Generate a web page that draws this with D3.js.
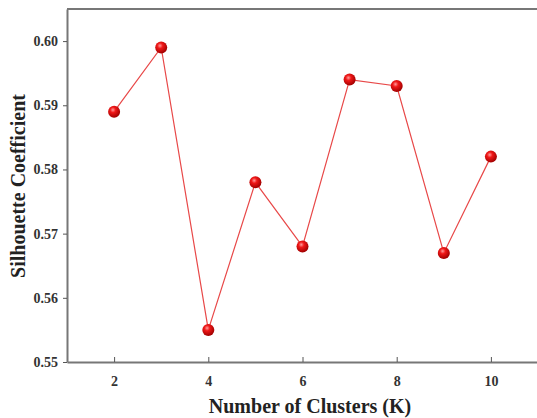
<!DOCTYPE html>
<html><head><meta charset="utf-8">
<script src="https://cdn.jsdelivr.net/npm/d3@7"></script>
<style>body{margin:0;background:#fff}svg{display:block}</style>
</head><body>
<svg id="c" width="537" height="418"></svg>
<script>
const clusters = [2,3,4,5,6,7,8,9,10];
const silhouette = [0.589,0.599,0.555,0.578,0.568,0.594,0.593,0.567,0.582];
const xTicks = [2,4,6,8,10];
const yTicks = [0.55,0.56,0.57,0.58,0.59,0.60];

const svg = d3.select('#c');
const L=67, R=537, T=9, B=362;
const x = d3.scaleLinear().domain([1,11]).range([L,R+1]);
const y = d3.scaleLinear().domain([0.55,0.605]).range([B,T]);

const defs = svg.append('defs');
const g = defs.append('radialGradient').attr('id','ball').attr('cx','40%').attr('cy','35%').attr('r','65%');
g.append('stop').attr('offset','0%').attr('stop-color','#ff9a9a');
g.append('stop').attr('offset','35%').attr('stop-color','#f01818');
g.append('stop').attr('offset','100%').attr('stop-color','#a00000');

svg.append('line').attr('x1',L).attr('x2',R).attr('y1',T).attr('y2',T).attr('stroke','#777').attr('stroke-width',2);

const serif = '"Liberation Serif","Times New Roman",serif';

const xa = svg.append('g').attr('transform',`translate(0,${B})`)
  .call(d3.axisBottom(x).tickValues(xTicks).tickFormat(d3.format('d')).tickSizeInner(-5).tickSizeOuter(0).tickPadding(14));
const ya = svg.append('g').attr('transform',`translate(${L},0)`)
  .call(d3.axisLeft(y).tickValues(yTicks).tickFormat(d3.format('.2f')).tickSizeInner(4).tickSizeOuter(0).tickPadding(5));
[xa,ya].forEach(a=>{
  a.select('.domain').attr('stroke','#777').attr('stroke-width',2);
  a.selectAll('.tick line').attr('stroke','#555').attr('stroke-width',1);
  a.selectAll('text').attr('font-family',serif).attr('font-weight','bold').attr('font-size',14).attr('fill','#333');
});

const line = d3.line().x((d,i)=>x(clusters[i])).y(d=>y(d));
svg.append('path').datum(silhouette).attr('d',line).attr('fill','none').attr('stroke','#e84848').attr('stroke-width',1.2);

svg.selectAll('circle.p').data(silhouette).join('circle').attr('class','p')
  .attr('cx',(d,i)=>x(clusters[i])).attr('cy',d=>y(d)).attr('r',6)
  .attr('fill','url(#ball)');

svg.append('text').attr('x',310).attr('y',413).attr('text-anchor','middle')
  .attr('font-family',serif).attr('font-weight','bold').attr('font-size',20).attr('fill','#222')
  .text('Number of Clusters (K)');
svg.append('text').attr('transform','translate(25,186) rotate(-90)').attr('text-anchor','middle')
  .attr('font-family',serif).attr('font-weight','bold').attr('font-size',20).attr('fill','#222')
  .text('Silhouette Coefficient');
</script>
</body></html>
